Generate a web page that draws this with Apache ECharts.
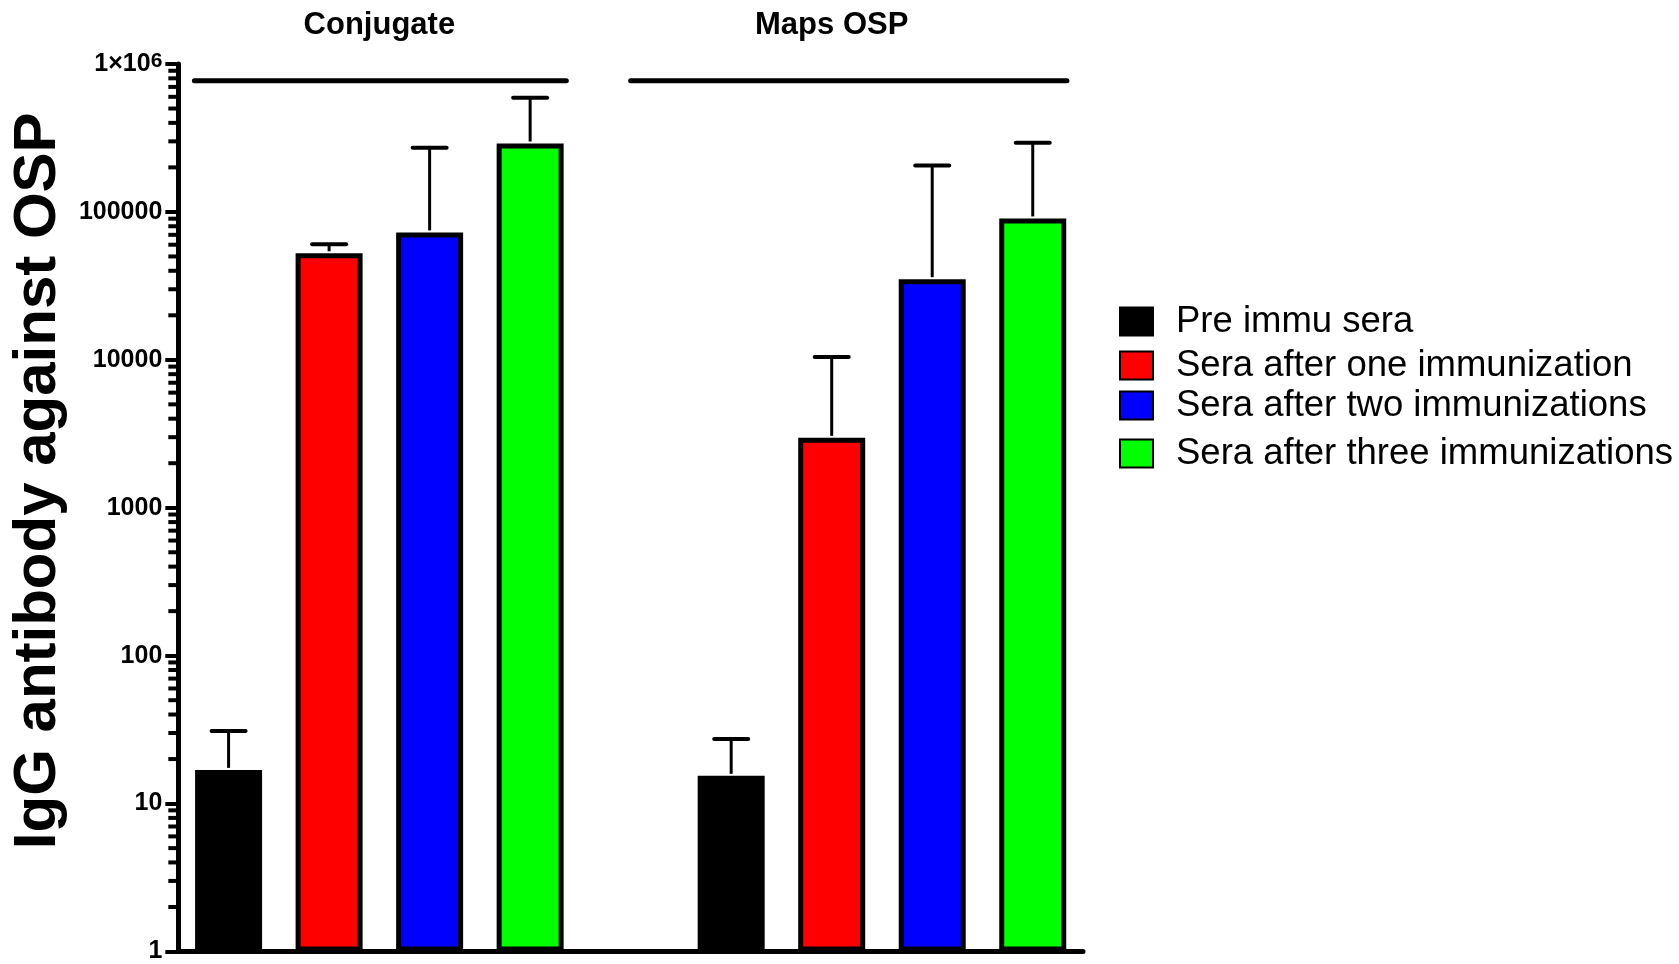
<!DOCTYPE html>
<html>
<head>
<meta charset="utf-8">
<script src="https://cdn.jsdelivr.net/npm/echarts@6/dist/echarts.min.js"></script>
<style>
html,body{margin:0;padding:0;background:#fff;}
#chart{width:1679px;height:964px;}
</style>
</head>
<body>
<div id="chart"></div>
<script>
// ---- data ----
const groups = ['Conjugate', 'Maps OSP'];
const seriesNames = ['Pre immu sera', 'Sera after one immunization', 'Sera after two immunizations', 'Sera after three immunizations'];
const seriesColors = ['#000000', '#ff0000', '#0000ff', '#00ff00'];
const meanPre = [16.9, 15.4];
const meanOne = [52500, 2970];
const meanTwo = [72700, 35100];
const meanThree = [290000, 90400];
const upperPre = [30.9, 27.3];
const upperOne = [60400, 10440];
const upperTwo = [272000, 206000];
const upperThree = [592000, 294000];
const bracketLevel = [771000, 771000];
const yTickValues = [1, 10, 100, 1000, 10000, 100000, 1000000];
const minorMultipliers = [2, 3, 4, 5, 6, 7, 8, 9];
const yAxisTitle = 'IgG antibody against OSP';

// ---- layout constants ----
const SLOTS_PER_GROUP = 5;           // 4 bars + 1 empty spacer slot
const NUM_SLOTS = 9;
const bracketStart = [-0.34, 4.0];   // in slot units
const bracketEnd = [3.36, 8.34];
const groupLabelSlot = [1.5, 6.0];
const FONT = '"Liberation Sans", Arial, Helvetica, sans-serif';

const means = [meanPre, meanOne, meanTwo, meanThree];
const uppers = [upperPre, upperOne, upperTwo, upperThree];

const slotCats = [];
for (let i = 0; i < NUM_SLOTS; i++) slotCats.push('s' + i);

const barSeries = seriesNames.map((name, s) => {
  const d = new Array(NUM_SLOTS).fill('-');
  groups.forEach((g, gi) => { d[gi * SLOTS_PER_GROUP + s] = means[s][gi]; });
  return {
    name: name,
    type: 'bar',
    data: d,
    barWidth: 67,
    barGap: '-100%',
    itemStyle: { color: seriesColors[s], borderColor: '#000', borderWidth: 5 },
    z: 2
  };
});

const errData = [];
seriesNames.forEach((name, s) => {
  groups.forEach((g, gi) => {
    errData.push([gi * SLOTS_PER_GROUP + s, means[s][gi], uppers[s][gi]]);
  });
});

const minorData = [];
for (let k = 0; k < yTickValues.length - 1; k++) {
  minorMultipliers.forEach(m => minorData.push([0, m * yTickValues[k]]));
}

const bracketData = groups.map((g, gi) => [bracketStart[gi], bracketEnd[gi], bracketLevel[gi]]);

const chart = echarts.init(document.getElementById('chart'), null, { renderer: 'canvas' });

const option = {
  animation: false,
  backgroundColor: '#fff',
  textStyle: { fontFamily: FONT },
  grid: { left: 174, right: 596, top: 64, bottom: 9, containLabel: false },
  legend: seriesNames.map((name, i) => ({
    data: [name],
    left: 1119,
    top: [303, 347, 387, 435][i],
    padding: 0,
    icon: 'rect',
    itemWidth: 33,
    itemHeight: 28,
    selectedMode: false,
    textStyle: { fontSize: 36.5, color: '#000', fontFamily: FONT, padding: [0, 0, 0, 18], lineHeight: 36 }
  })),
  xAxis: {
    type: 'category',
    data: slotCats,
    boundaryGap: true,
    axisLine: { show: true, lineStyle: { color: '#000', width: 5 } },
    axisTick: { show: false },
    axisLabel: { show: false },
    splitLine: { show: false }
  },
  yAxis: {
    type: 'log',
    logBase: 10,
    min: 1,
    max: 1000000,
    name: yAxisTitle,
    nameLocation: 'middle',
    nameGap: 104,
    nameTextStyle: { fontSize: 60, fontWeight: 'bold', color: '#000', fontFamily: FONT, padding: [0, 0, 0, 54] },
    axisLine: { show: true, lineStyle: { color: '#000', width: 5 } },
    axisTick: { show: true, inside: false, length: 13, lineStyle: { color: '#000', width: 4 } },
    splitLine: { show: false },
    minorTick: { show: false },
    axisLabel: {
      margin: 16,
      color: '#000',
      fontSize: 25,
      fontWeight: 'bold',
      fontFamily: FONT,
      formatter: function (v) {
        if (v >= 999999) return '{m|1×10}{s|6}';
        return String(Math.round(v));
      },
      rich: {
        m: { fontSize: 25, fontWeight: 'bold', color: '#000', fontFamily: FONT },
        s: { fontSize: 21, fontWeight: 'bold', color: '#000', fontFamily: FONT, verticalAlign: 'top', padding: [0, 0, 6, 0] }
      }
    }
  },
  series: barSeries.concat([
    {
      type: 'custom',
      name: 'errors',
      clip: false,
      z: 3,
      data: errData,
      encode: { x: 0, y: 1 },
      renderItem: function (params, api) {
        const x = api.value(0);
        const top = api.coord([x, api.value(1)]);
        const up = api.coord([x, api.value(2)]);
        return {
          type: 'group',
          children: [
            { type: 'line', shape: { x1: top[0], y1: top[1] - 2, x2: up[0], y2: up[1] }, style: { stroke: '#000', lineWidth: 3 } },
            { type: 'line', shape: { x1: up[0] - 17, y1: up[1], x2: up[0] + 17, y2: up[1] }, style: { stroke: '#000', lineWidth: 4, lineCap: 'round' } }
          ]
        };
      }
    },
    {
      type: 'custom',
      name: 'minorTicks',
      clip: false,
      z: 4,
      data: minorData,
      encode: { x: 0, y: 1 },
      renderItem: function (params, api) {
        const p = api.coord([0, api.value(1)]);
        const bw = api.size([1, 0])[0];
        const x = p[0] - bw / 2;
        return { type: 'line', shape: { x1: x - 10, y1: p[1], x2: x, y2: p[1] }, style: { stroke: '#000', lineWidth: 4 } };
      }
    },
    {
      type: 'custom',
      name: 'brackets',
      clip: false,
      z: 4,
      data: bracketData,
      encode: { y: 2 },
      renderItem: function (params, api) {
        const p0 = api.coord([0, api.value(2)]);
        const bw = api.size([1, 0])[0];
        return {
          type: 'line',
          shape: { x1: p0[0] + api.value(0) * bw, y1: p0[1], x2: p0[0] + api.value(1) * bw, y2: p0[1] },
          style: { stroke: '#000', lineWidth: 5, lineCap: 'round' }
        };
      }
    }
  ])
};

chart.setOption(option);

// group labels positioned through the axis scale
const gl = groups.map((g, gi) => {
  const c0 = chart.convertToPixel({ xAxisIndex: 0 }, 's0');
  const c1 = chart.convertToPixel({ xAxisIndex: 0 }, 's1');
  const bw = c1 - c0;
  return {
    type: 'text',
    x: c0 + groupLabelSlot[gi] * bw,
    y: 25,
    style: { text: g, fill: '#000', font: 'bold 31px ' + FONT, textAlign: 'center', textVerticalAlign: 'middle' }
  };
});
chart.setOption({ graphic: gl });
</script>
</body>
</html>
